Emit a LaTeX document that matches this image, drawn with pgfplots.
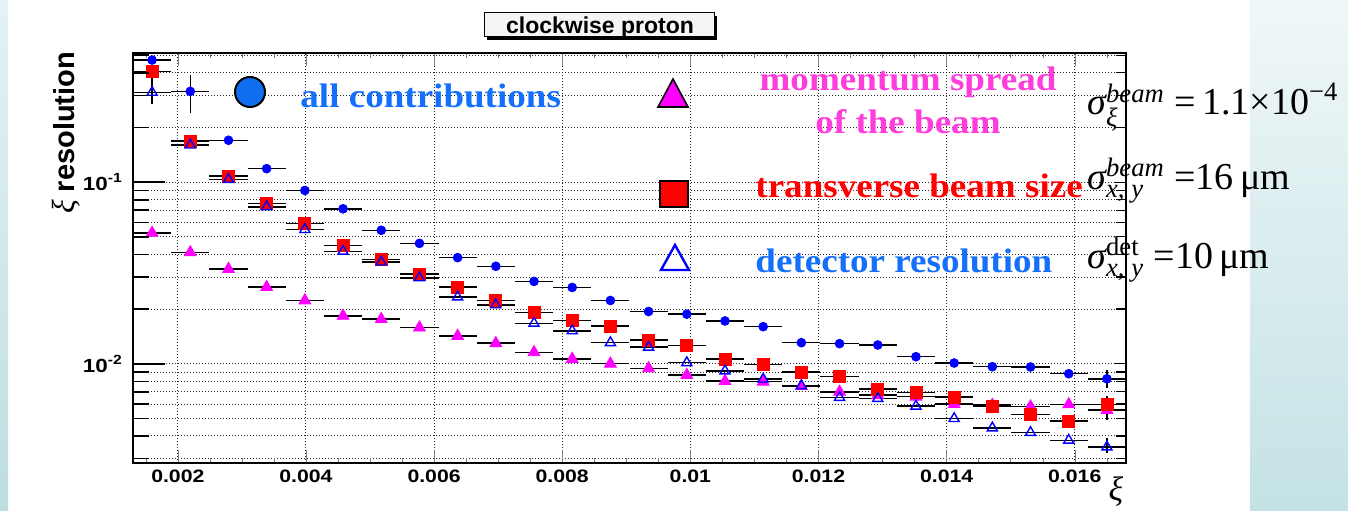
\documentclass[border=0pt]{standalone}
\usepackage{amsmath}
\usepackage{graphicx}
\usepackage{fontspec}
\setmainfont{Liberation Serif}
\setsansfont{Liberation Sans}
\usepackage{pgfplots}
\usepackage{pgfplotstable}
\pgfplotsset{compat=1.18}

\definecolor{legblue}{RGB}{20,112,250}
\definecolor{legmag}{RGB}{255,60,220}
\definecolor{mag}{RGB}{255,0,255}
\definecolor{legcirc}{RGB}{16,110,240}
\definecolor{panelTop}{RGB}{240,247,248}
\definecolor{panelBot}{RGB}{196,226,229}
\definecolor{stripTop}{RGB}{228,242,243}
\definecolor{stripBot}{RGB}{190,222,226}
\newcommand{\sx}[1]{\scalebox{1.18}[1]{#1}}

% columns: x  y  ex  eyp  eym
\pgfplotstableread{
x y ex eyp eym
0.0015981 0.470 0.000298 0 0
0.0021942 0.316 0.000298 0.072 0.075
0.0027904 0.170 0.000298 0 0
0.0033865 0.1186 0.000298 0 0
0.0039827 0.0900 0.000298 0 0
0.0045788 0.0713 0.000298 0 0
0.0051750 0.0543 0.000298 0 0
0.0057712 0.0460 0.000298 0 0
0.0063673 0.0384 0.000298 0 0
0.0069635 0.0344 0.000298 0 0
0.0075596 0.0284 0.000298 0 0
0.0081558 0.0263 0.000298 0 0
0.0087519 0.0223 0.000298 0 0
0.0093481 0.0194 0.000298 0 0
0.0099442 0.01875 0.000298 0 0
0.0105404 0.0172 0.000298 0 0
0.0111365 0.0160 0.000298 0 0
0.0117327 0.01306 0.000298 0 0
0.0123288 0.0129 0.000298 0 0
0.0129250 0.01268 0.000298 0 0
0.0135212 0.01093 0.000298 0 0
0.0141173 0.01009 0.000298 0 0
0.0147135 0.00963 0.000298 0 0
0.0153096 0.00959 0.000298 0 0
0.0159058 0.00881 0.000298 0.0003 0.0003
0.0165019 0.00826 0.000298 0.0010 0.00095
}\allc

\pgfplotstableread{
x y ex eyp eym
0.0015981 0.407 0.000298 0 0
0.0021942 0.1685 0.000298 0 0
0.0027904 0.108 0.000298 0 0
0.0033865 0.0763 0.000298 0 0
0.0039827 0.0591 0.000298 0 0
0.0045788 0.0449 0.000298 0 0
0.0051750 0.0374 0.000298 0 0
0.0057712 0.0312 0.000298 0 0
0.0063673 0.0264 0.000298 0 0
0.0069635 0.0223 0.000298 0 0
0.0075596 0.0192 0.000298 0 0
0.0081558 0.0173 0.000298 0 0
0.0087519 0.0161 0.000298 0 0
0.0093481 0.01352 0.000298 0 0
0.0099442 0.0126 0.000298 0 0
0.0105404 0.01062 0.000298 0 0
0.0111365 0.00993 0.000298 0 0
0.0117327 0.00900 0.000298 0 0
0.0123288 0.00848 0.000298 0 0
0.0129250 0.00725 0.000298 0 0
0.0135212 0.00695 0.000298 0 0
0.0141173 0.00655 0.000298 0 0
0.0147135 0.00584 0.000298 0 0
0.0153096 0.00527 0.000298 0 0
0.0159058 0.00484 0.000298 0 0
0.0165019 0.00597 0.000298 0.0007 0.0011
}\beamsize

\pgfplotstableread{
x y ex eyp eym
0.0015981 0.0525 0.000298 0 0
0.0021942 0.0410 0.000298 0 0
0.0027904 0.0332 0.000298 0 0
0.0033865 0.0264 0.000298 0 0
0.0039827 0.0223 0.000298 0 0
0.0045788 0.01835 0.000298 0 0
0.0051750 0.01759 0.000298 0 0
0.0057712 0.01581 0.000298 0 0
0.0063673 0.01422 0.000298 0 0
0.0069635 0.01297 0.000298 0 0
0.0075596 0.01156 0.000298 0 0
0.0081558 0.01062 0.000298 0 0
0.0087519 0.0100 0.000298 0 0
0.0093481 0.00944 0.000298 0 0
0.0099442 0.00866 0.000298 0 0
0.0105404 0.00802 0.000298 0 0
0.0111365 0.00796 0.000298 0 0
0.0117327 0.00753 0.000298 0 0
0.0123288 0.00700 0.000298 0 0
0.0129250 0.00671 0.000298 0 0
0.0135212 0.00658 0.000298 0 0
0.0141173 0.00599 0.000298 0 0
0.0147135 0.00592 0.000298 0 0
0.0153096 0.00580 0.000298 0 0
0.0159058 0.00597 0.000298 0 0
0.0165019 0.00555 0.000298 0 0
}\momspread

\pgfplotstableread{
x y ex eyp eym
0.0015981 0.312 0.000298 0.10 0.043
0.0021942 0.160 0.000298 0 0
0.0027904 0.1035 0.000298 0 0
0.0033865 0.0731 0.000298 0 0
0.0039827 0.0548 0.000298 0 0
0.0045788 0.0416 0.000298 0 0
0.0051750 0.0363 0.000298 0 0
0.0057712 0.0297 0.000298 0 0
0.0063673 0.0233 0.000298 0 0
0.0069635 0.0211 0.000298 0 0
0.0075596 0.0167 0.000298 0 0
0.0081558 0.01517 0.000298 0 0
0.0087519 0.01306 0.000298 0 0
0.0093481 0.01233 0.000298 0 0
0.0099442 0.01013 0.000298 0 0
0.0105404 0.00912 0.000298 0 0
0.0111365 0.00823 0.000298 0 0
0.0117327 0.00756 0.000298 0 0
0.0123288 0.00652 0.000298 0 0
0.0129250 0.00644 0.000298 0 0
0.0135212 0.00584 0.000298 0 0
0.0141173 0.00499 0.000298 0 0
0.0147135 0.00443 0.000298 0 0
0.0153096 0.00418 0.000298 0 0
0.0159058 0.00379 0.000298 0 0
0.0165019 0.00348 0.000298 0.0004 0.00025
}\detres

\begin{document}
\begin{tikzpicture}
\useasboundingbox (0,0) rectangle (674pt,255pt);
\fill[white] (0,0) rectangle (674pt,255pt);
\shade[top color=stripTop, bottom color=stripBot] (0,0) rectangle (4pt,255pt);
\shade[top color=panelTop, bottom color=panelBot] (625pt,0) rectangle (674pt,255pt);

% main axis: data, grids, x ticks, labels
\begin{axis}[
  scale only axis, width=496.5pt, height=205pt,
  at={(66.5pt,23.5pt)}, anchor=south west,
  xmin=0.0013, xmax=0.0168,
  ymode=log, ymin=0.00284, ymax=0.514,
  scaled x ticks=false,
  tick align=inside,
  axis line style={line width=1pt},
  xtick={0.002,0.004,0.006,0.008,0.01,0.012,0.014,0.016},
  xticklabels={\sx{0.002},\sx{0.004},\sx{0.006},\sx{0.008},\sx{0.01},\sx{0.012},\sx{0.014},\sx{0.016}},
  minor xtick={0.0015,0.0025,0.003,0.0035,0.0045,0.005,0.0055,0.0065,0.007,0.0075,0.0085,0.009,0.0095,0.0105,0.011,0.0115,0.0125,0.013,0.0135,0.0145,0.015,0.0155,0.0165},
  xtick pos=both,
  major tick length=6.5pt, minor tick length=2.5pt,
  ytick={0.01,0.1},
  yticklabels={\sx{10\textsuperscript{-2}},\sx{10\textsuperscript{-1}}},
  minor ytick={0.003,0.004,0.005,0.006,0.007,0.008,0.009,0.02,0.03,0.04,0.05,0.06,0.07,0.08,0.09,0.2,0.3,0.4,0.5},
  ytick style={draw=none},
  xmajorgrids, ymajorgrids, yminorgrids,
  grid style={black!85, line width=0.5pt, dash pattern=on 0.5pt off 1pt},
  xticklabel style={font=\sffamily\bfseries\fontsize{9}{10}\selectfont},
  yticklabel style={font=\sffamily\bfseries\fontsize{9.5}{10}\selectfont, xshift=-1.5pt},
  ylabel={{\rmfamily\mdseries\itshape\fontsize{16}{16}\selectfont ξ} resolution},
  ylabel style={font=\sffamily\bfseries\fontsize{14.5}{16}\selectfont, at={(axis description cs:-0.0594,1.02)}, anchor=base east},
  clip=false,
]
\addplot[only marks, mark=triangle*, mark size=3.4pt, color=mag, mark options={fill=mag, draw=mag},
  error bars/.cd, x dir=both, x explicit, y dir=both, y explicit, error mark=none, error bar style={black, line width=0.75pt}]
  table[x=x, y=y, x error=ex, y error plus=eyp, y error minus=eym] {\momspread};
\addplot[only marks, mark=square*, mark size=3pt, color=red, mark options={fill=red, draw=red},
  error bars/.cd, x dir=both, x explicit, y dir=both, y explicit, error mark=none, error bar style={black, line width=0.75pt}]
  table[x=x, y=y, x error=ex, y error plus=eyp, y error minus=eym] {\beamsize};
\addplot[only marks, mark=triangle, mark size=2.9pt, color=blue, mark options={draw=blue, line width=0.7pt},
  error bars/.cd, x dir=both, x explicit, y dir=both, y explicit, error mark=none, error bar style={black, line width=0.75pt}]
  table[x=x, y=y, x error=ex, y error plus=eyp, y error minus=eym] {\detres};
\addplot[only marks, mark=*, mark size=2.2pt, color=blue, mark options={fill=blue, draw=blue},
  error bars/.cd, x dir=both, x explicit, y dir=both, y explicit, error mark=none, error bar style={black, line width=0.75pt}]
  table[x=x, y=y, x error=ex, y error plus=eyp, y error minus=eym] {\allc};
\end{axis}

% left y ticks (long)
\begin{axis}[
  scale only axis, width=496.5pt, height=205pt,
  at={(66.5pt,23.5pt)}, anchor=south west,
  xmin=0.0013, xmax=0.0168,
  ymode=log, ymin=0.00284, ymax=0.514,
  tick align=inside,
  axis line style={draw=none},
  xtick=\empty,
  ytick={0.01,0.1}, yticklabels={},
  minor ytick={0.003,0.004,0.005,0.006,0.007,0.008,0.009,0.02,0.03,0.04,0.05,0.06,0.07,0.08,0.09,0.2,0.3,0.4,0.5},
  ytick pos=left,
  major tick length=16pt, minor tick length=8pt,
  tick style={black, line width=0.8pt},
]
\end{axis}

% right y ticks (short)
\begin{axis}[
  scale only axis, width=496.5pt, height=205pt,
  at={(66.5pt,23.5pt)}, anchor=south west,
  xmin=0.0013, xmax=0.0168,
  ymode=log, ymin=0.00284, ymax=0.514,
  tick align=inside,
  axis line style={draw=none},
  xtick=\empty,
  ytick={0.01,0.1}, yticklabels={},
  minor ytick={0.003,0.004,0.005,0.006,0.007,0.008,0.009,0.02,0.03,0.04,0.05,0.06,0.07,0.08,0.09,0.2,0.3,0.4,0.5},
  ytick pos=right,
  major tick length=6pt, minor tick length=5pt,
  tick style={black, line width=0.6pt},
]
\end{axis}

\begin{scope}[x=0.5pt,y=0.5pt]
% title box
\fill[black] (487,510-16) rectangle (717,510-40);
\draw[fill=gray!8, line width=0.5pt] (484,510-13) rectangle (714,510-37);
\node[anchor=base] at (600,510-33.3) {\sffamily\bfseries\fontsize{11.5}{13}\selectfont clockwise proton};

% x label
\node at (1116,510-492) {\fontsize{17}{20}\selectfont\itshape ξ};

% legend symbols
\draw[fill=legcirc, line width=1pt] (250,510-92) circle (7.5pt);
\draw[fill=mag, line width=0.8pt] (658,510-107) -- (688,510-107) -- (673,510-79) -- cycle;
\draw[fill=red, line width=0.8pt] (660,510-181) rectangle (688,510-207);
\draw[blue, line width=1.2pt] (661,510-270) -- (689,510-270) -- (675,510-245) -- cycle;

% legend texts
\node[anchor=base west, text=legblue, inner sep=0pt, xscale=1.09] at (300,510-107) {\fontsize{17}{20}\selectfont\bfseries all contributions};
\node[anchor=base, text=legmag, inner sep=0pt, xscale=1.09] at (908,510-90) {\fontsize{17}{20}\selectfont\bfseries momentum spread};
\node[anchor=base, text=legmag, inner sep=0pt, xscale=1.09] at (908,510-133) {\fontsize{17}{20}\selectfont\bfseries of the beam};
\node[anchor=base west, text=red, inner sep=0pt, xscale=1.09] at (755,510-197) {\fontsize{17}{20}\selectfont\bfseries transverse beam size};
\node[anchor=base west, text=legblue, inner sep=0pt, xscale=1.09] at (755,510-272) {\fontsize{17}{20}\selectfont\bfseries detector resolution};

% equations
\node[anchor=base west, inner sep=0pt] at (1087,510-115) {\fontsize{19}{23}\selectfont $\text{\itshape σ}^{\text{\itshape beam}}_{\text{\itshape ξ}}\;\text{=\,1.1×10}^{\text{−4}}$};
\node[anchor=base west, inner sep=0pt] at (1087,510-189) {\fontsize{19}{23}\selectfont $\text{\itshape σ}^{\text{\itshape beam}}_{\text{\itshape x, y}}\;\text{=16\,μm}$};
\node[anchor=base west, inner sep=0pt] at (1087,510-268) {\fontsize{19}{23}\selectfont $\text{\itshape σ}^{\text{det}}_{\text{\itshape x, y}}\;\text{=10\,μm}$};
\end{scope}
\end{tikzpicture}
\end{document}
